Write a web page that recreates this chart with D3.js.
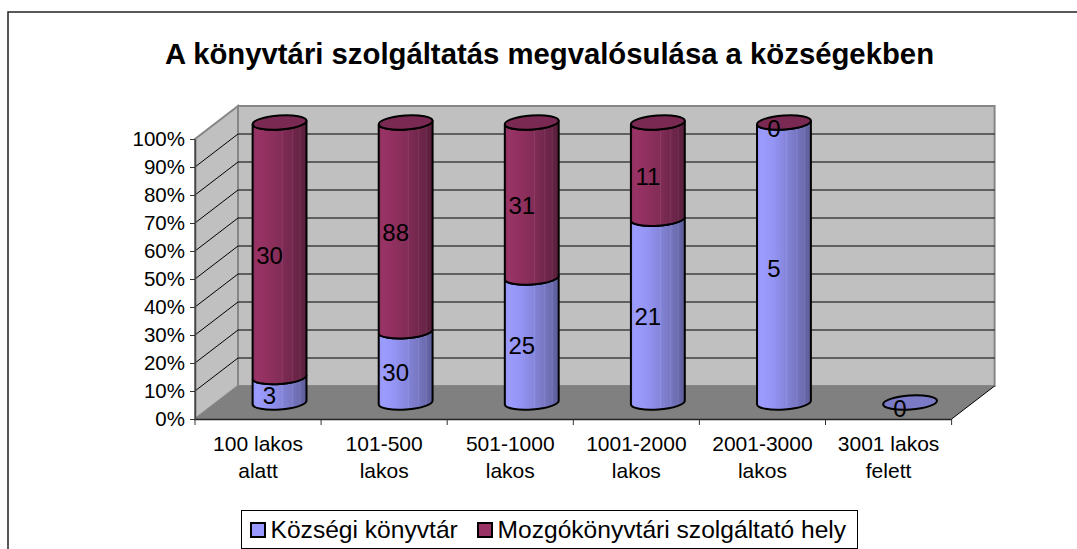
<!DOCTYPE html>
<html>
<head>
<meta charset="utf-8">
<script src="https://cdn.jsdelivr.net/npm/d3@7"></script>
<style>
body { margin: 0; background: #fff; }
text { font-family: "Liberation Sans", Arial, sans-serif; fill: #000; }
</style>
</head>
<body>
<div id="chart"></div>
<script>
const categories = [["100 lakos", "alatt"], ["101-500", "lakos"], ["501-1000", "lakos"], ["1001-2000", "lakos"], ["2001-3000", "lakos"], ["3001 lakos", "felett"]];
const kozsegi = [3, 30, 25, 21, 5, 0];
const mozgo = [30, 88, 31, 11, 0, 0];
const seriesNames = ["Községi könyvtár", "Mozgókönyvtári szolgáltató hely"];
const percentTicks = [0, 0.1, 0.2, 0.3, 0.4, 0.5, 0.6, 0.7, 0.8, 0.9, 1];

const width = 1077, height = 549;
const depthX = 43, depthY = 33;
const rx = 27, ry = 7, tilt = -4;

const svg = d3.select("#chart").append("svg")
    .attr("width", width)
    .attr("height", height)
    .style("display", "block");

// outer frame runs off the right and bottom of the picture
svg.append("rect")
    .attr("x", 8).attr("y", 12)
    .attr("width", 1100).attr("height", 570)
    .attr("fill", "#fff").attr("stroke", "#222").attr("stroke-width", 1.5);

svg.append("text")
    .attr("x", 549.5).attr("y", 64)
    .attr("text-anchor", "middle")
    .style("font-size", "29.3px").style("font-weight", "bold")
    .text("A könyvtári szolgáltatás megvalósulása a községekben");

const x = d3.scaleBand().domain(d3.range(categories.length)).range([195, 951.6]);
const y = d3.scaleLinear().domain([0, 1]).range([419, 139]);

// gradients for the cylinder shading, the faint stripes come from the extra stops
const defs = svg.append("defs");
function gradient(id, stops) {
    const g = defs.append("linearGradient").attr("id", id);
    stops.forEach(s => g.append("stop").attr("offset", s[0]).attr("stop-color", s[1]));
}
gradient("blue", [[0, "#9393f5"], [0.08, "#9c9cff"], [0.3, "#9494f4"], [0.53, "#8686dc"], [0.55, "#9090e2"], [0.57, "#8282d4"],
    [0.72, "#7878c4"], [0.74, "#8282cc"], [0.76, "#7474be"], [0.86, "#6c6cb0"], [0.88, "#7676b8"], [0.9, "#6666a8"], [1, "#5c5c98"]]);
gradient("red", [[0, "#8c3060"], [0.08, "#993366"], [0.3, "#90305f"], [0.53, "#822d57"], [0.55, "#8e3b64"], [0.57, "#7e2b54"],
    [0.72, "#73284d"], [0.74, "#7e3358"], [0.76, "#6f264a"], [0.86, "#682446"], [0.88, "#733050"], [0.9, "#622241"], [1, "#58203c"]]);

const wallPath = (a, b, c, d) => "M" + [a, b, c, d].map(p => p.join(",")).join("L") + "Z";
const x0 = x.range()[0], x1 = x.range()[1];
const yTop = y(1), yBase = y(0);

// side wall, back wall, floor
svg.append("path")
    .attr("d", wallPath([x0, yBase], [x0, yTop], [x0 + depthX, yTop - depthY], [x0 + depthX, yBase - depthY]))
    .attr("fill", "#c0c0c0").attr("stroke", "#868686").attr("stroke-width", 2);
svg.append("rect")
    .attr("x", x0 + depthX).attr("y", yTop - depthY)
    .attr("width", x1 - x0).attr("height", yBase - yTop)
    .attr("fill", "#c0c0c0").attr("stroke", "#868686").attr("stroke-width", 2);
svg.append("path")
    .attr("d", wallPath([x0, yBase], [x0 + depthX, yBase - depthY], [x1 + depthX, yBase - depthY], [x1, yBase]))
    .attr("fill", "#808080");

// grid lines along the side wall and back wall
percentTicks.filter(t => t > 0 && t < 1).forEach(t => {
    svg.append("path")
        .attr("d", `M${x0},${y(t)}L${x0 + depthX},${y(t) - depthY}L${x1 + depthX},${y(t) - depthY}`)
        .attr("fill", "none").attr("stroke", "#000").attr("stroke-width", 1);
});
svg.append("path")
    .attr("d", `M${x1},${yBase}L${x1 + depthX},${yBase - depthY}`)
    .attr("fill", "none").attr("stroke", "#000").attr("stroke-width", 1);

// axes
const yAxis = d3.axisLeft(y).tickValues(percentTicks).tickFormat(d3.format(".0%")).tickSize(5).tickSizeOuter(0);
const gy = svg.append("g").attr("transform", `translate(${x0},0)`).call(yAxis);
gy.selectAll("text").style("font-size", "20.5px").attr("x", -10);
gy.selectAll("line").attr("stroke", "#333");
gy.select(".domain").attr("stroke", "#444").attr("stroke-width", 1.5);

const xAxis = d3.axisBottom(x).tickValues([]).tickSize(0).tickSizeOuter(0);
const gx = svg.append("g").attr("transform", `translate(0,${yBase})`).call(xAxis);
gx.select(".domain").attr("stroke", "#222").attr("stroke-width", 1.5);
d3.range(categories.length + 1).forEach(i => {
    const tx = x0 + i * x.step();
    svg.append("line")
        .attr("x1", tx).attr("x2", tx).attr("y1", yBase).attr("y2", yBase + 6)
        .attr("stroke", "#333");
});
const catLabels = svg.append("g").selectAll("text").data(categories).join("text")
    .attr("text-anchor", "middle")
    .attr("transform", (d, i) => `translate(${x(i) + x.bandwidth() / 2},0)`)
    .style("font-size", "21px");
catLabels.selectAll("tspan").data(d => d).join("tspan")
    .attr("x", 0)
    .attr("y", (d, i) => 451 + i * 27)
    .text(d => d);

// cylinder geometry, in percent of the stack
const cx = i => x(i) + x.bandwidth() / 2 + depthX / 2;
const cy = v => y(v) - depthY / 2;
const rad = tilt * Math.PI / 180;
const edgeX = rx * Math.cos(rad), edgeY = rx * Math.sin(rad);

function bodyPath(i, p0, p1) {
    const c = cx(i);
    const lo = cy(p0), hi = cy(p1);
    return `M${c - edgeX},${lo - edgeY}` +
        `A${rx},${ry} ${tilt} 0 0 ${c + edgeX},${lo + edgeY}` +
        `L${c + edgeX},${hi + edgeY}` +
        `A${rx},${ry} ${tilt} 0 1 ${c - edgeX},${hi - edgeY}Z`;
}
function capEllipse(i, p, fill) {
    svg.append("ellipse")
        .attr("cx", 0).attr("cy", 0).attr("rx", rx).attr("ry", ry)
        .attr("transform", `translate(${cx(i)},${cy(p)}) rotate(${tilt})`)
        .attr("fill", fill).attr("stroke", "#000").attr("stroke-width", 2);
}

categories.forEach((c, i) => {
    const total = kozsegi[i] + mozgo[i];
    if (total === 0) {
        capEllipse(i, 0, "#7a7ac6");
        return;
    }
    const split = kozsegi[i] / total;
    svg.append("path").attr("d", bodyPath(i, 0, split))
        .attr("fill", "url(#blue)").attr("stroke", "#000").attr("stroke-width", 2);
    if (mozgo[i] > 0) {
        svg.append("path").attr("d", bodyPath(i, split, 1))
            .attr("fill", "url(#red)").attr("stroke", "#000").attr("stroke-width", 2);
    }
    capEllipse(i, 1, "#7a2a52");
});

// data labels sit left of the cylinder axis
function dataLabel(i, mid, value) {
    svg.append("text")
        .attr("x", cx(i) - 10).attr("y", cy(mid) + 6)
        .attr("dy", "0.35em")
        .attr("text-anchor", "middle")
        .style("font-size", "24px")
        .text(value);
}
categories.forEach((c, i) => {
    const total = kozsegi[i] + mozgo[i];
    if (total === 0) {
        dataLabel(i, 0, kozsegi[i]);
        return;
    }
    const split = kozsegi[i] / total;
    dataLabel(i, split / 2, kozsegi[i]);
    dataLabel(i, (split + 1) / 2, mozgo[i]);
});

// legend
const legend = svg.append("g");
legend.append("rect")
    .attr("x", 241.5).attr("y", 510.5).attr("width", 616).attr("height", 38)
    .attr("fill", "#fff").attr("stroke", "#000");
const legendX = [251, 478];
const legendFills = ["#9999ff", "#993366"];
seriesNames.forEach((name, i) => {
    legend.append("rect")
        .attr("x", legendX[i]).attr("y", 523).attr("width", 14).attr("height", 14)
        .attr("fill", legendFills[i]).attr("stroke", "#000").attr("stroke-width", 2);
    legend.append("text")
        .attr("x", legendX[i] + 19.5).attr("y", 538)
        .style("font-size", "24.6px")
        .text(name);
});
</script>
</body>
</html>
